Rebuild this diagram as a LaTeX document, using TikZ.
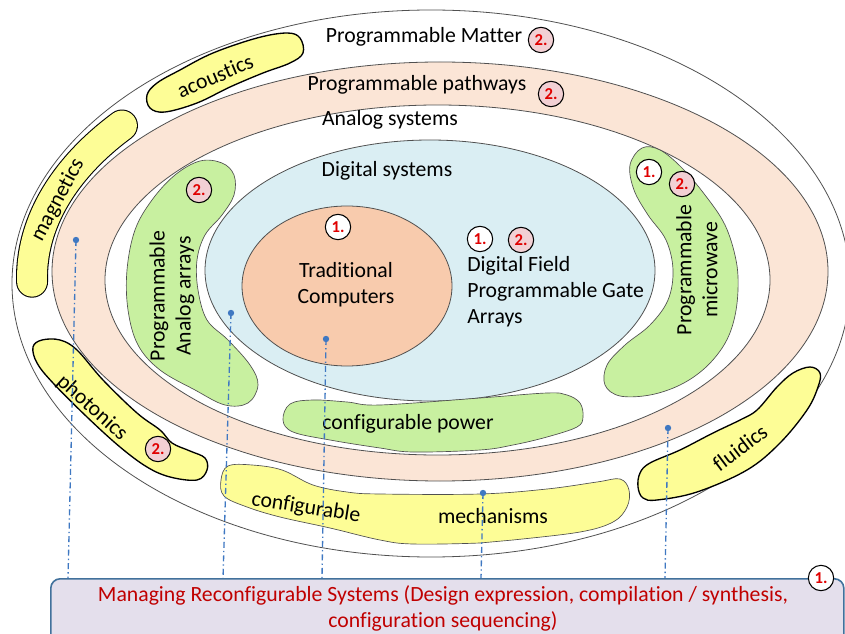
\documentclass[tikz,border=0pt]{standalone}
\usepackage{fontspec}
\setmainfont{Carlito}[Ligatures=NoCommon]
\definecolor{peach}{HTML}{FBE5D6}
\definecolor{dblue}{HTML}{DAEEF3}
\definecolor{tcorange}{HTML}{F8CBAD}
\definecolor{lgreen}{HTML}{C8F0A0}
\definecolor{lyellow}{HTML}{FDFD96}
\definecolor{lav}{HTML}{E4DFEC}
\definecolor{boxblue}{HTML}{41719C}
\definecolor{bpink}{HTML}{F2D0D4}
\definecolor{bred}{HTML}{E00000}
\definecolor{boxred}{HTML}{C00000}
\definecolor{conblue}{HTML}{3F78C2}
\definecolor{outl}{HTML}{505050}
\tikzset{
  ring/.style={draw=outl, line width=0.6pt},
  lbl/.style={font=\fontsize{16.3}{19.5}\selectfont, inner sep=0pt, align=center},
  badge/.style={circle, draw=black, line width=0.8pt, minimum size=19pt, inner sep=0pt,
    font=\bfseries\fontsize{12.5}{13}\selectfont, text=bred},
  badgew/.style={badge, fill=white},
  badgep/.style={badge, fill=bpink},
  greenblob/.style={draw=outl, line width=0.5pt, fill=lgreen},
  yblob/.style={draw=outl, line width=0.5pt, fill=lyellow},
  yblobk/.style={draw=black, line width=1pt, fill=lyellow},
  capout/.style={draw=black, line width=24pt, line cap=round},
  capin/.style={draw=lyellow, line width=22.4pt, line cap=round},
  conn/.style={draw=conblue, line width=1pt, dash pattern=on 4.5pt off 2.3pt on 1pt off 2.3pt},
  cdot/.style={fill=conblue},
}
\begin{document}
\begin{tikzpicture}[x=0.75pt,y=-0.75pt]
\useasboundingbox (0,0) rectangle (845,634);
% rings
\path[ring, fill=white] (431,283.5) ellipse [x radius=419, y radius=273.5];
\path[ring, fill=peach] (440,271.5) ellipse [x radius=388, y radius=209.5];
\path[ring, fill=white] (437.5,280) ellipse [x radius=332.5, y radius=175];
\path[ring, fill=dblue] (430,270.5) ellipse [x radius=225, y radius=130.5];
\path[ring, fill=tcorange] (347,286) ellipse [x radius=105, y radius=80];
% yellow outer blobs (black outline)
\draw[capout] plot[domain=141:181, smooth, samples=30, variable=\t] ({435.5+403.5*cos(\t)},{277.5-241.5*sin(\t)});
\draw[capin] plot[domain=141:181, smooth, samples=30, variable=\t] ({435.5+403.5*cos(\t)},{277.5-241.5*sin(\t)});
\draw[yblobk] plot[smooth cycle, tension=0.6] coordinates {(147,95) (157,83) (180,70) (213,53) (257,38) (287,33) (300,38) (303,53) (290,63) (263,73) (230,87) (197,103) (165,112) (150,108)};
\draw[yblobk] plot[smooth cycle, tension=0.6] coordinates {(33,347) (42,340) (60,340) (77,350) (103,380) (137,413) (160,430) (172,443) (190,451) (205,458) (207,470) (197,480) (170,477) (147,467) (120,447) (87,417) (53,383) (37,363)};
\draw[yblobk] plot[smooth cycle, tension=0.6] coordinates {(810,367) (820,373) (818,387) (807,410) (780,443) (747,470) (697,492) (657,500) (643,498) (638,487) (640,473) (650,463) (680,450) (713,433) (740,420) (757,410) (777,387) (793,373)};
% mechanisms
\draw[yblob] plot[smooth cycle, tension=0.6] coordinates {(228,466) (252,465) (282,470) (313,485) (347,492) (380,494) (480,494) (547,489) (597,482) (620,479) (629,490) (627,507) (613,522) (580,532) (513,540) (480,543) (413,544) (380,540) (330,528) (280,517) (247,507) (224,496) (221,480)};
% green blobs
\draw[greenblob] plot[smooth cycle, tension=0.6] coordinates {(290,404) (313,400) (347,402) (380,405) (480,398) (547,393) (567,395) (580,403) (583,417) (577,427) (547,437) (513,445) (480,450) (413,452) (380,448) (330,440) (293,432) (283,420)};
\draw[greenblob] plot[smooth cycle, tension=0.6] coordinates {(200,161) (222,163) (234,175) (234,195) (222,215) (205,235) (197,260) (198,290) (207,320) (228,340) (250,365) (258,385) (248,403) (225,405) (195,390) (160,370) (138,345) (128,310) (127,270) (135,230) (152,200) (175,175)};
\draw[greenblob] plot[smooth cycle, tension=0.6] coordinates {(642,148) (660,150) (682,168) (705,195) (725,225) (736,260) (738,290) (734,320) (724,345) (705,368) (680,385) (650,395) (620,396) (605,385) (607,365) (625,345) (650,325) (668,300) (673,270) (666,240) (648,215) (634,190) (630,165)};
% labels
\node[lbl] (tmatter) at (424,37) {Programmable Matter};
\node[lbl] (tpath) at (417,85) {Programmable pathways};
\node[lbl] (tanalog) at (390,120) {Analog systems};
\node[lbl] (tdigital) at (387,171) {Digital systems};
\node[lbl] (ttrad) at (346,285) {Traditional\\Computers};
\node[lbl, align=left, anchor=west] (tfpga) at (467,292) {Digital Field\\Programmable Gate\\Arrays};
\node[lbl, rotate=90] (tarrays) at (172,296) {Programmable\\Analog arrays};
\node[lbl, rotate=90] (tmicro) at (697,270) {Programmable\\microwave};
\node[lbl] (tpower) at (408,424) {configurable power};
\node[lbl, rotate=62] (tmag) at (58,200) {magnetics};
\node[lbl, rotate=23] (tacou) at (215,76) {acoustics};
\node[lbl, rotate=-42] (tphot) at (92,408) {photonics};
\node[lbl, rotate=37] (tflu) at (740,448) {fluidics};
\node[lbl, rotate=-9] (tconf) at (306,508) {configurable};
\node[lbl] (tmech) at (493,516) {mechanisms};
% badges
\node[badgep] (b1) at (541,40) {2.};
\node[badgep] (b2) at (551,94) {2.};
\node[badgep] (b3) at (199,190) {2.};
\node[badgew] (b4) at (338,227) {1.};
\node[badgew] (b5) at (480,239) {1.};
\node[badgep] (b6) at (521,240) {2.};
\node[badgew] (b7) at (649,172) {1.};
\node[badgep] (b8) at (682,184) {2.};
\node[badgep] (b9) at (158,449) {2.};
% connectors
\coordinate (d1) at (76,240);  \coordinate (e1) at (68,578);
\coordinate (d2) at (231,313); \coordinate (e2) at (223,578);
\coordinate (d3) at (326,339); \coordinate (e3) at (322,578);
\coordinate (d4) at (483,493); \coordinate (e4) at (481,578);
\coordinate (d5) at (668,428); \coordinate (e5) at (665,578);
\foreach \i in {1,...,5}{
  \draw[conn] (d\i) -- (e\i);
  \fill[cdot] (d\i) circle [radius=3.2];
}
% management box
\node[draw=boxblue, line width=1.2pt, fill=lav, rounded corners=7pt, anchor=north west,
  minimum width=594.75pt, minimum height=54pt, inner sep=0pt] (box) at (50,578) {};
\node[lbl, text=boxred] (tbox) at (443,608) {Managing Reconfigurable Systems (Design expression, compilation / synthesis,\\configuration sequencing)};
\node[badgew] (b10) at (821,578) {1.};
\end{tikzpicture}
\end{document}
